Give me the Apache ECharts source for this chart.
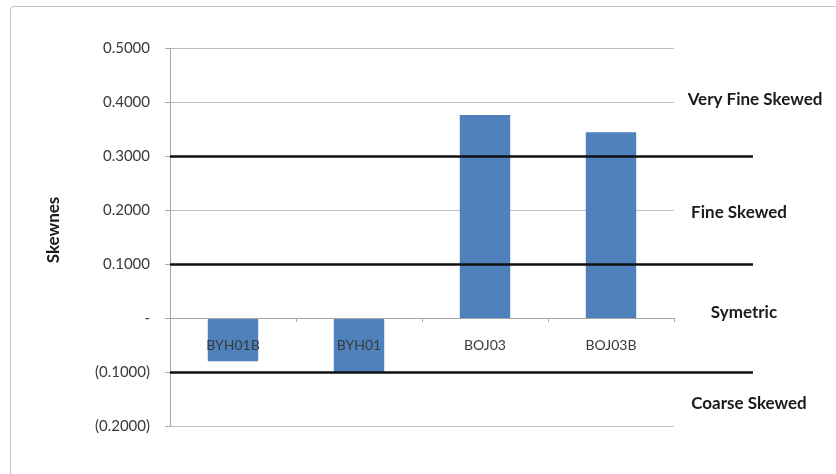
<!DOCTYPE html>
<html>
<head>
<meta charset="utf-8">
<script src="https://cdn.jsdelivr.net/npm/echarts@6/dist/echarts.min.js"></script>
<style>
  html, body { margin: 0; padding: 0; background: #fff; }
  #chart { width: 836px; height: 474px; }
</style>
</head>
<body>
<div id="chart"></div>
<script>
// Sample skewness values per sample
const samples = ['BYH01B', 'BYH01', 'BOJ03', 'BOJ03B'];
const skewness = [-0.080, -0.100, 0.376, 0.344];

// Class boundaries drawn as heavy horizontal rules
const classBounds = [0.3, 0.1, -0.1];

// Class names shown at the right, with the value they sit at
const classNames = ['Very Fine Skewed', 'Fine Skewed', 'Symetric', 'Coarse Skewed'];
const classNameLevels = [0.405, 0.195, 0.01, -0.158];
const classNameX = [755, 739, 744, 749];

const yMin = -0.2, yMax = 0.5, yStep = 0.1;

const gridTop = 48, gridBottom = 48, chartHeight = 474;
const plotHeight = chartHeight - gridTop - gridBottom;
// distance of the zero line above the bottom of the plot
const zeroLift = plotHeight * (0 - yMin) / (yMax - yMin);

function fmt(v) {
  if (Math.abs(v) < 1e-9) return '-';
  const s = Math.abs(v).toFixed(4);
  return v < 0 ? '(' + s + ')' : s;
}

const chart = echarts.init(document.getElementById('chart'), null, { renderer: 'canvas' });

const option = {
  backgroundColor: '#ffffff',
  animation: false,
  grid: [
    { left: 170, right: 162, top: gridTop, bottom: gridBottom, containLabel: false },
    { left: 170, right: 83, top: gridTop, bottom: gridBottom, containLabel: false }
  ],
  xAxis: [
    {
      type: 'category',
      gridIndex: 0,
      data: samples,
      z: 3,
      offset: -zeroLift,
      axisLine: { onZero: false, lineStyle: { color: '#a6a6a6', width: 1 } },
      axisTick: { show: true, length: 4, lineStyle: { color: '#a6a6a6' } },
      axisLabel: {
        margin: 20,
        color: '#3a3a3a',
        fontFamily: 'Lato',
        fontSize: 14
      },
      splitLine: { show: false }
    },
    {
      type: 'value',
      gridIndex: 1,
      min: 0,
      max: 1,
      show: false
    }
  ],
  yAxis: [
    {
      type: 'value',
      gridIndex: 0,
      min: yMin,
      max: yMax,
      interval: yStep,
      name: 'Skewnes',
      nameLocation: 'middle',
      nameGap: 108,
      nameRotate: 90,
      nameTextStyle: {
        color: '#1a1a1a',
        fontFamily: 'Lato',
        fontWeight: 'bold',
        fontSize: 17,
        padding: [0, 0, 0, 14]
      },
      axisLine: { show: true, lineStyle: { color: '#a6a6a6', width: 1 } },
      axisTick: { show: true, length: 5, lineStyle: { color: '#a6a6a6' } },
      axisLabel: {
        margin: 20,
        color: '#3a3a3a',
        fontFamily: 'Lato',
        fontSize: 15,
        formatter: fmt
      },
      splitLine: { show: true, lineStyle: { color: '#bfbfbf', width: 1 } }
    },
    {
      type: 'value',
      gridIndex: 1,
      min: yMin,
      max: yMax,
      show: false
    }
  ],
  series: [
    {
      type: 'bar',
      xAxisIndex: 0,
      yAxisIndex: 0,
      data: skewness,
      barWidth: '40%',
      itemStyle: { color: '#4f81bd' },
      z: 2
    },
    {
      type: 'line',
      xAxisIndex: 1,
      yAxisIndex: 1,
      data: [],
      z: 5,
      markLine: {
        silent: true,
        symbol: ['none', 'none'],
        label: { show: false },
        lineStyle: { color: '#111111', width: 2.5, type: 'solid' },
        data: classBounds.map(v => ({ yAxis: v }))
      }
    }
  ]
};

chart.setOption(option);

// Outer chart-area frame plus the class names at the right
const graphics = [
  {
    type: 'rect',
    shape: { x: 10.5, y: 6.5, width: 840, height: 480, r: 3 },
    style: { fill: 'none', stroke: '#c4c4c4', lineWidth: 1 },
    silent: true
  }
];
classNames.forEach((name, i) => {
  const py = chart.convertToPixel({ yAxisIndex: 0 }, classNameLevels[i]);
  graphics.push({
    type: 'text',
    x: classNameX[i],
    y: py,
    style: {
      text: name,
      fill: '#1a1a1a',
      font: 'bold 17px Lato',
      textAlign: 'center',
      textVerticalAlign: 'middle'
    },
    silent: true
  });
});
chart.setOption({ graphic: graphics });
</script>
</body>
</html>
